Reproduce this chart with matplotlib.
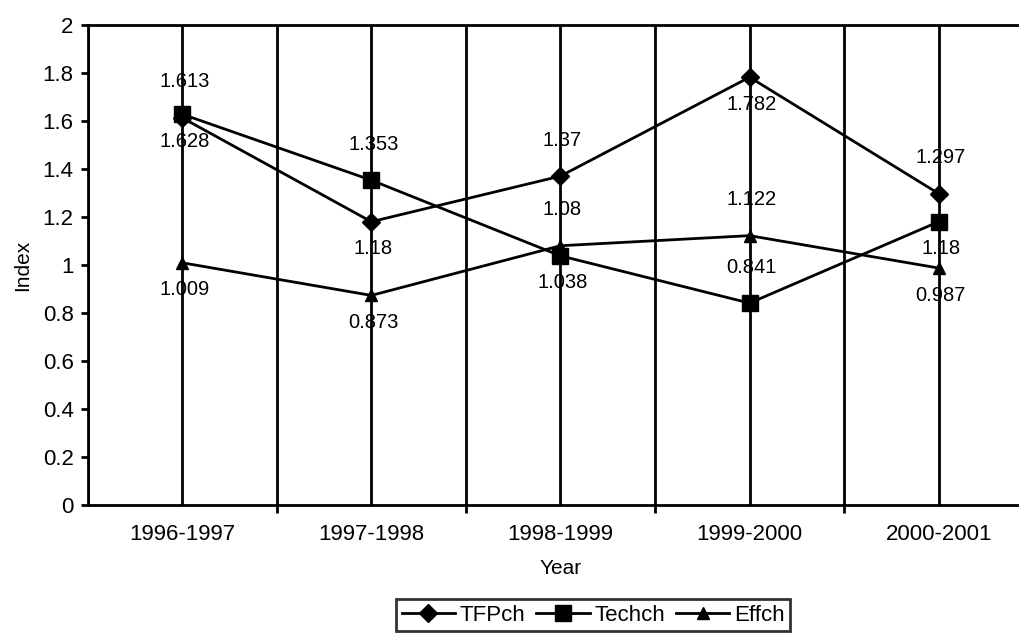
import numpy as np
from matplotlib import pyplot as plt

years = ['1996-1997', '1997-1998', '1998-1999', '1999-2000', '2000-2001']
tfpch = [1.613, 1.18, 1.37, 1.782, 1.297]
techch = [1.628, 1.353, 1.038, 0.841, 1.18]
effch = [1.009, 0.873, 1.08, 1.122, 0.987]

# where the data label sits: 1 above the point, -1 below
tfpch_side = [1, -1, 1, -1, 1]
techch_side = [-1, 1, -1, 1, -1]
effch_side = [-1, -1, 1, 1, -1]


def main():
    plt.rcParams['font.family'] = ['Liberation Sans', 'DejaVu Sans']
    fig = plt.figure(figsize=(10.19, 6.38), dpi=100)
    ax = fig.add_axes([0.086, 0.2085, 0.928, 0.7525])

    x = np.arange(len(years))
    series = [
        ('TFPch', tfpch, 'D', 9, tfpch_side),
        ('Techch', techch, 's', 11, techch_side),
        ('Effch', effch, '^', 9, effch_side),
    ]

    # vertical grid lines at category centres and boundaries
    for xv in np.arange(-0.5, len(years), 0.5):
        ax.axvline(xv, color='black', lw=2.0, zorder=1)

    for name, vals, mk, ms, side in series:
        ax.plot(x, vals, color='black', lw=2.0, marker=mk, markersize=ms,
                label=name, zorder=3)
        for xi, v, s in zip(x, vals, side):
            off = 36 if s > 0 else -27
            ax.annotate('{0:g}'.format(v), (xi, v), xytext=(2, off),
                        textcoords='offset pixels', ha='center', va='center',
                        fontsize=14.5, zorder=4)

    ax.set_xlim(-0.5, len(years) - 0.5)
    ax.set_ylim(0, 2)
    ax.set_yticks(np.arange(0, 2.01, 0.2))
    ax.set_yticklabels(['0', '0.2', '0.4', '0.6', '0.8', '1', '1.2', '1.4',
                        '1.6', '1.8', '2'])
    ax.set_xticks(x)
    ax.set_xticklabels(years)
    ax.set_xticks(np.arange(0.5, len(years) - 1, 1), minor=True)
    ax.tick_params(axis='x', which='major', length=0, pad=14, labelsize=16)
    ax.tick_params(axis='x', which='minor', length=6, width=2.0,
                   direction='out')
    ax.tick_params(axis='y', length=5, width=2.0, labelsize=16, pad=5)
    for sp in ax.spines.values():
        sp.set_linewidth(2.0)

    ax.set_xlabel('Year', fontsize=15, labelpad=10)
    ax.set_ylabel('Index', fontsize=15, labelpad=8)

    leg = fig.legend(loc='center', bbox_to_anchor=(0.582, 0.036), ncol=3,
                     fontsize=16, frameon=True, fancybox=False,
                     handlelength=2.4, columnspacing=0.5, handletextpad=0.2,
                     borderpad=0.25, borderaxespad=0)
    leg.get_frame().set_edgecolor('black')
    leg.get_frame().set_linewidth(2.0)

    fig.savefig('out.png', dpi=100)


if __name__ == '__main__':
    main()
